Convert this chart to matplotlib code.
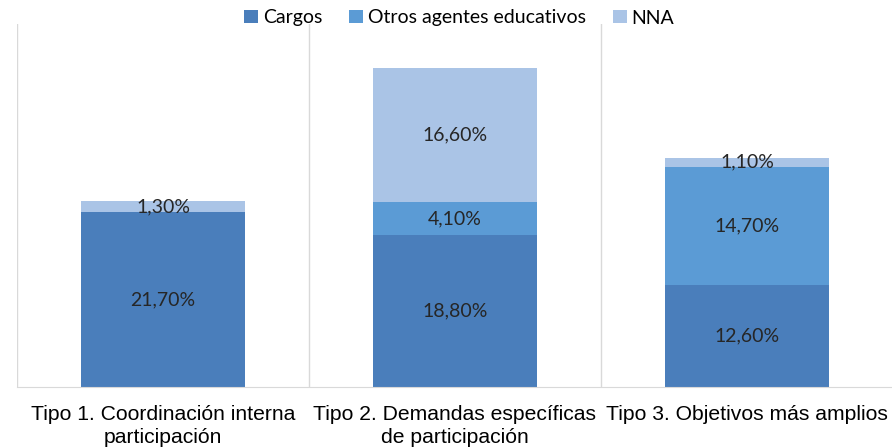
import numpy as np
import matplotlib
matplotlib.use('Agg')
from matplotlib import pyplot as plt

categories = ['Tipo 1. Coordinación interna\nparticipación',
              'Tipo 2. Demandas específicas\nde participación',
              'Tipo 3. Objetivos más amplios']
series_names = ['Cargos', 'Otros agentes educativos', 'NNA']
cargos = [21.7, 18.8, 12.6]
otros = [0.0, 4.1, 14.7]
nna = [1.3, 16.6, 1.1]
colors = ['#4a7ebb', '#5b9bd5', '#aac4e6']


def fmt(v):
    return f'{v:.2f}'.replace('.', ',') + '%'


def main():
    fig = plt.figure(figsize=(8.92, 4.48), dpi=100)
    ax = fig.add_axes([17 / 892, 61 / 448, 876 / 892, 363 / 448])
    x = np.arange(len(categories))
    bottom = np.zeros(len(categories))
    for name, vals, c in zip(series_names, [cargos, otros, nna], colors):
        vals = np.array(vals)
        ax.bar(x, vals, width=0.56, bottom=bottom, color=c, label=name, zorder=2)
        for xi, b, v in zip(x, bottom, vals):
            if v > 0:
                ax.text(xi, b + v / 2, fmt(v), ha='center', va='center',
                        fontsize=14, family='Lato', color='#262626', zorder=3)
        bottom = bottom + vals

    ax.set_xlim(-0.5, 2.5)
    ax.set_ylim(0, 45)
    for xs in [-0.5, 0.5, 1.5, 2.5]:
        ax.axvline(xs, color='#d9d9d9', lw=1, zorder=1)
    for s in ['top', 'right', 'left']:
        ax.spines[s].set_visible(False)
    ax.spines['bottom'].set_color('#d9d9d9')
    ax.set_yticks([])
    ax.set_xticks(x)
    ax.set_xticklabels(categories, fontsize=15.2, family=['Liberation Sans Narrow', 'Liberation Sans'],
                       linespacing=1.25)
    ax.tick_params(axis='x', length=0, pad=13)

    fig.legend(loc='center', bbox_to_anchor=(0.515, 1 - 18 / 448), ncol=3, frameon=False,
               prop={'family': 'Lato', 'size': 14}, handlelength=0.7, handleheight=0.7,
               handletextpad=0.25, columnspacing=1.4)
    fig.savefig('out.png', dpi=100)


if __name__ == '__main__':
    main()
